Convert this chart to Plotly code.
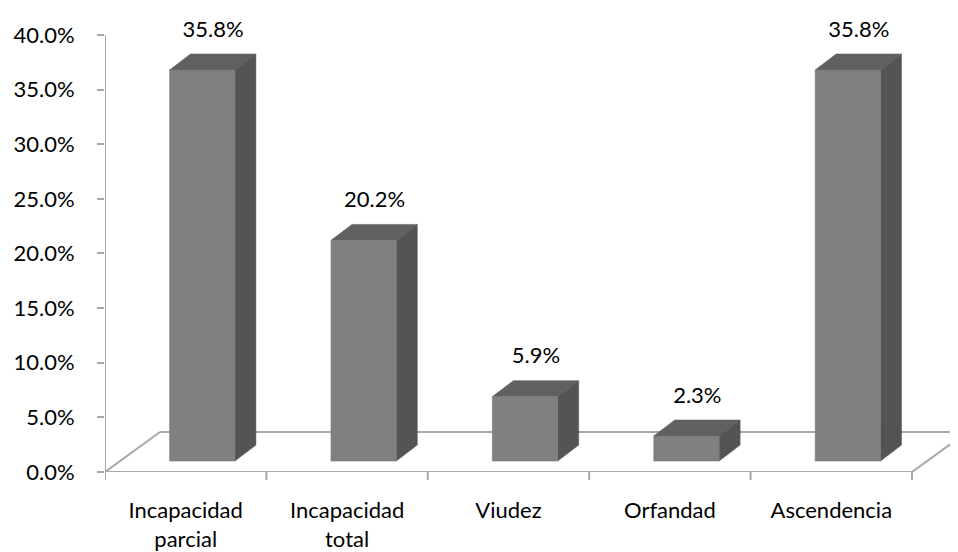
import plotly.graph_objects as go

categories = ["Incapacidad parcial", "Incapacidad total", "Viudez", "Orfandad", "Ascendencia"]
category_labels = ["Incapacidad<br>parcial", "Incapacidad<br>total", "Viudez", "Orfandad", "Ascendencia"]
values = [35.8, 20.2, 5.9, 2.3, 35.8]
y_ticks = [0, 5, 10, 15, 20, 25, 30, 35, 40]
y_tick_labels = ["0.0%", "5.0%", "10.0%", "15.0%", "20.0%", "25.0%", "30.0%", "35.0%", "40.0%"]

FONT = "Lato"
FS = 22
LINE = "#a8a8a8"
FRONT = "#808080"
SIDE = "#545454"
TOP = "#606060"

# pseudo-3D geometry (in axis units)
BASE = 1.0          # bar front bottom, above floor front edge
DX, DY = 0.13, 1.46  # depth offset
LEFT, RIGHT = -0.1, 0.305  # bar front extent relative to category centre
FLOOR_DX, FLOOR_DY = 0.341, 3.66

fig = go.Figure()

n = len(categories)

# floor: back edge, left diagonal, right diagonal
fig.add_trace(go.Scatter(
    x=[-0.5 + FLOOR_DX, n - 0.5 + FLOOR_DX], y=[FLOOR_DY, FLOOR_DY],
    mode="lines", line=dict(color=LINE, width=2), cliponaxis=False, hoverinfo="skip"))
fig.add_trace(go.Scatter(
    x=[-0.5, -0.5 + FLOOR_DX], y=[0, FLOOR_DY],
    mode="lines", line=dict(color=LINE, width=2), cliponaxis=False, hoverinfo="skip"))
fig.add_trace(go.Scatter(
    x=[n - 0.5, n - 0.5 + FLOOR_DX], y=[0, FLOOR_DY],
    mode="lines", line=dict(color=LINE, width=2), cliponaxis=False, hoverinfo="skip"))

# bars
for i, v in enumerate(values):
    x0 = i + LEFT
    x1 = i + RIGHT
    y0 = BASE
    y1 = BASE + v
    # side face
    fig.add_trace(go.Scatter(
        x=[x1, x1 + DX, x1 + DX, x1, x1], y=[y0, y0 + DY, y1 + DY, y1, y0],
        mode="lines", fill="toself", fillcolor=SIDE, line=dict(color=SIDE, width=0.5),
        hoverinfo="skip"))
    # top face
    fig.add_trace(go.Scatter(
        x=[x0, x1, x1 + DX, x0 + DX, x0], y=[y1, y1, y1 + DY, y1 + DY, y1],
        mode="lines", fill="toself", fillcolor=TOP, line=dict(color="#585858", width=0.5),
        hoverinfo="skip"))
    # front face
    fig.add_trace(go.Scatter(
        x=[x0, x1, x1, x0, x0], y=[y0, y0, y1, y1, y0],
        mode="lines", fill="toself", fillcolor=FRONT, line=dict(color="#777777", width=0.5),
        hoverinfo="skip"))

# data labels
fig.add_trace(go.Scatter(
    x=[i + 0.17 for i in range(n)], y=[BASE + v + DY + 2.1 for v in values],
    mode="text", text=[f"{v:.1f}%" for v in values], textposition="middle center",
    textfont=dict(family=FONT, size=FS, color="black"), cliponaxis=False, hoverinfo="skip"))

# floor front edge (category axis) and value axis line
fig.add_trace(go.Scatter(
    x=[-0.5, n - 0.5], y=[0, 0],
    mode="lines", line=dict(color=LINE, width=2), cliponaxis=False, hoverinfo="skip"))
fig.add_trace(go.Scatter(
    x=[-0.5, -0.5], y=[0, y_ticks[-1]],
    mode="lines", line=dict(color=LINE, width=2), cliponaxis=False, hoverinfo="skip"))

fig.update_layout(
    width=950, height=544,
    margin=dict(l=97, r=0, t=0, b=80),
    paper_bgcolor="white", plot_bgcolor="white",
    showlegend=False,
    font=dict(family=FONT, size=FS, color="black"),
    xaxis=dict(
        type="linear", range=[-0.5, -0.5 + 853 / 161.4],
        tickmode="array", tickvals=list(range(n)), ticktext=category_labels,
        ticks="", showgrid=False, zeroline=False, showline=False,
        ticklabelstandoff=23, tickfont=dict(family=FONT, size=FS, color="black"),
    ),
    yaxis=dict(
        range=[0, 464 / 10.926],
        tickmode="array", tickvals=y_ticks, ticktext=y_tick_labels,
        ticks="outside", ticklen=7, tickwidth=2, tickcolor=LINE,
        showgrid=False, zeroline=False, showline=False,
        ticklabelstandoff=18, tickfont=dict(family=FONT, size=FS, color="black"),
    ),
)

# category boundary tick marks on the floor front edge
for b in [i - 0.5 for i in range(n + 1)]:
    fig.add_shape(type="line", xref="x", yref="paper", x0=b, x1=b, y0=0, y1=-8 / 464,
                  line=dict(color=LINE, width=2))

fig.write_html("out.html")
